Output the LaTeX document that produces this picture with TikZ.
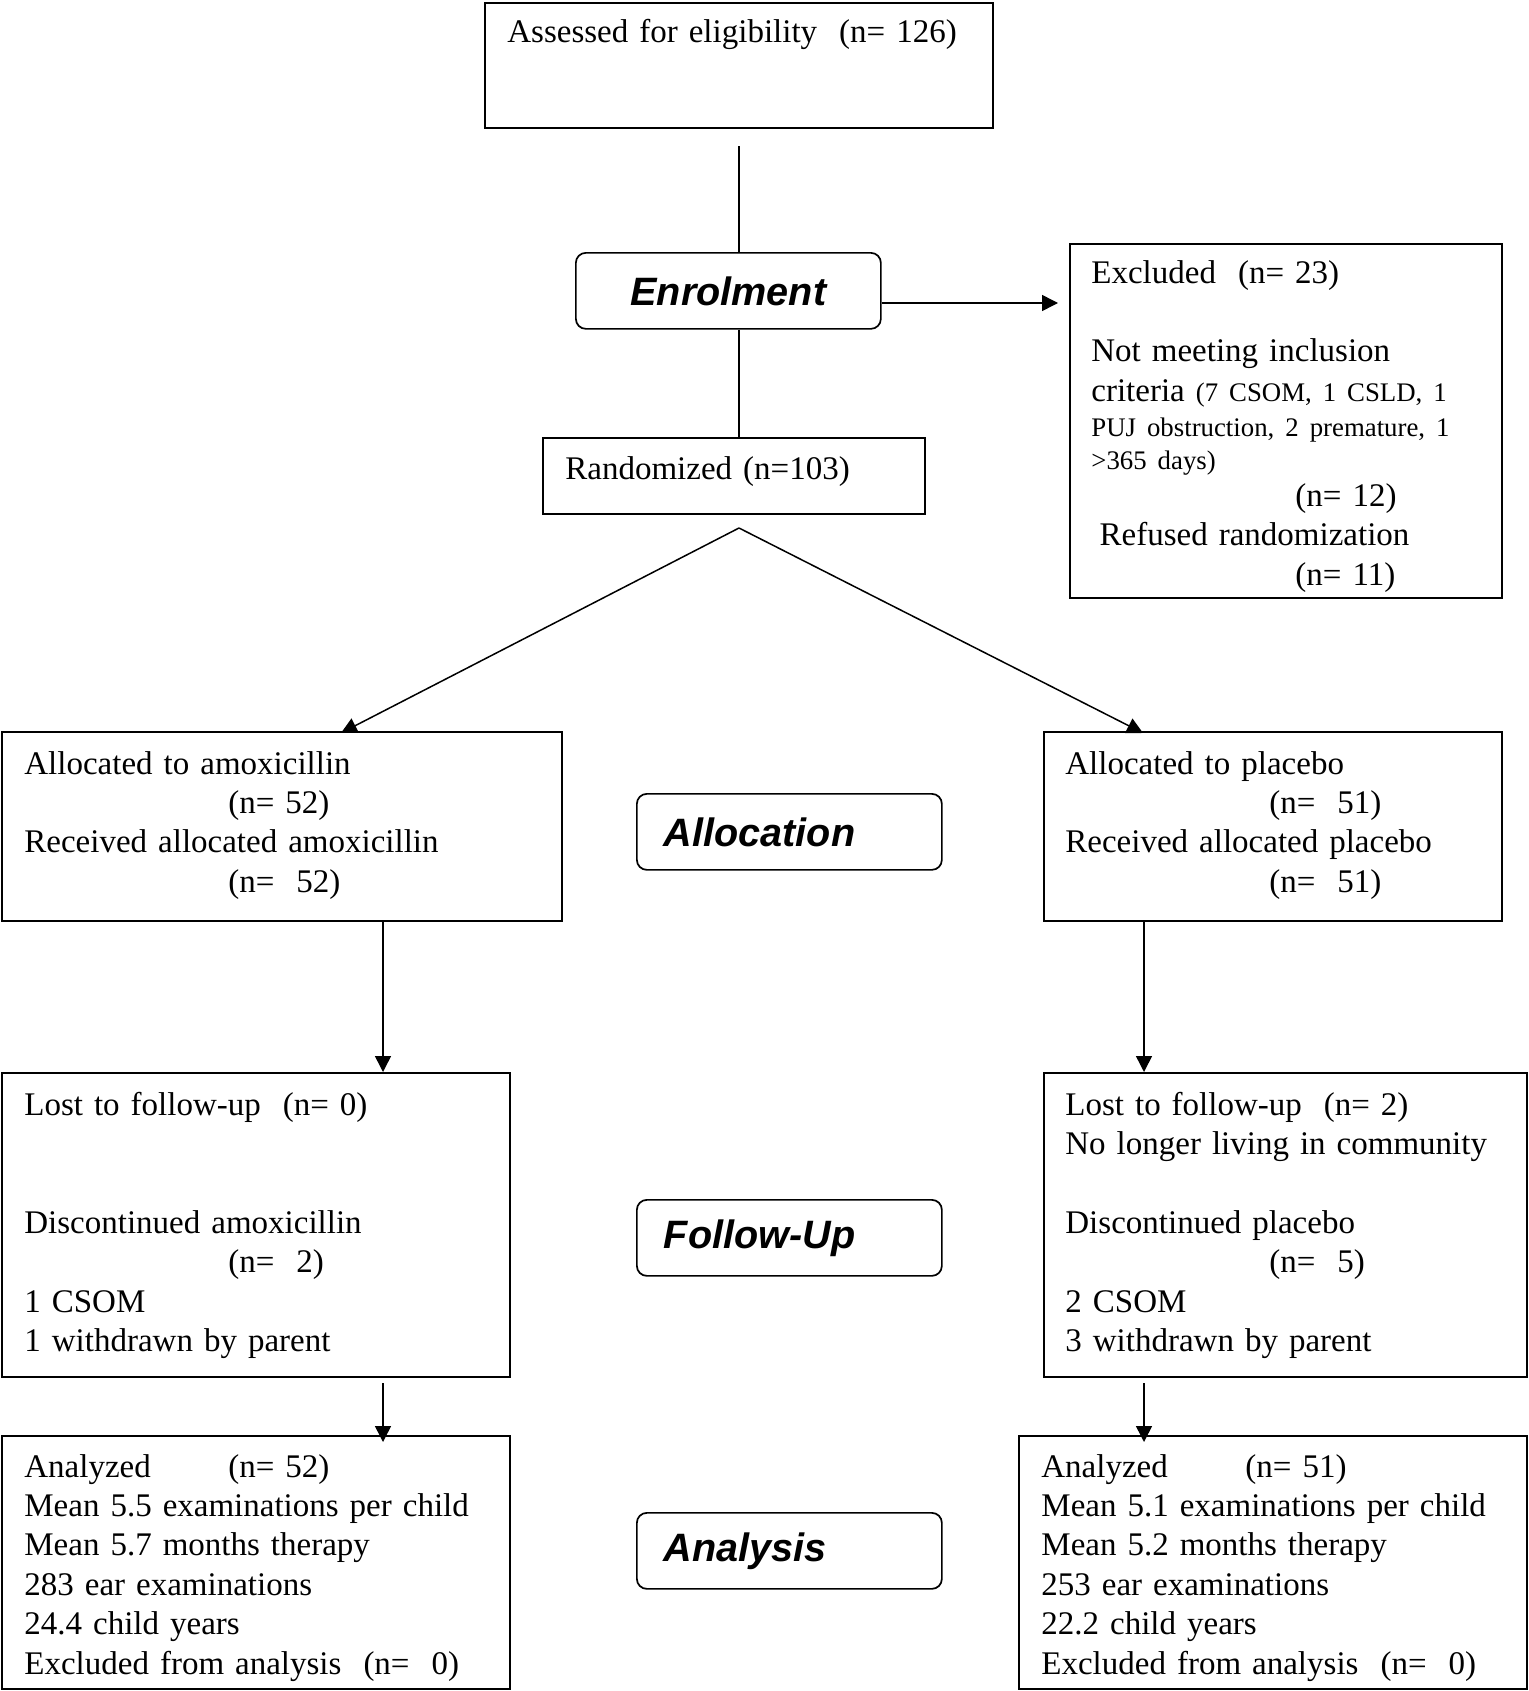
\documentclass[tikz,border=0pt]{standalone}
\usepackage{fontspec}
\setmainfont{Liberation Serif}
\newfontfamily\stagefont{Liberation Sans}
\usetikzlibrary{arrows.meta, positioning}
\newcommand{\ntab}[1]{\makebox[102pt][l]{#1}}
\newcommand{\smalltxt}{\fontsize{13.4}{16.5}\selectfont}

\begin{document}
\begin{tikzpicture}[x=0.5pt, y=-0.5pt,
                >={Triangle[length=8pt, width=8pt]},
                box/.style={draw, line width=0.85pt, anchor=north west, inner sep=0pt},
                stage/.style={draw, line width=0.85pt, rounded corners=5pt, anchor=north west,
                    minimum width=152.5pt, minimum height=38pt, inner xsep=13.5pt, inner ysep=0pt,
                    text width=125.5pt, align=left,
                    font=\stagefont\bfseries\itshape\fontsize{19.8}{22}\selectfont},
                txt/.style={anchor=base west, inner sep=0pt, text width=240pt, align=left,
                    font=\fontsize{16.5}{19.7}\selectfont},
                line/.style={line width=0.75pt}]

            \useasboundingbox (0,0) rectangle (1528,1691);

            % boxes
            \node[box, minimum width=254pt, minimum height=62.5pt] (elig) at (484,2) {};
            \node[box, minimum width=216pt, minimum height=177pt] (excl) at (1069,243) {};
            \node[box, minimum width=191pt, minimum height=38pt] (rand) at (542,437) {};
            \node[box, minimum width=280pt, minimum height=94.5pt] (alloc-l) at (1,731) {};
            \node[box, minimum width=229pt, minimum height=94.5pt] (alloc-r) at (1043,731) {};
            \node[box, minimum width=254pt, minimum height=152pt] (fu-l) at (1,1072) {};
            \node[box, minimum width=241.5pt, minimum height=152pt] (fu-r) at (1043,1072) {};
            \node[box, minimum width=254pt, minimum height=126.5pt] (an-l) at (1,1435) {};
            \node[box, minimum width=254pt, minimum height=126.5pt] (an-r) at (1018,1435) {};

            % stages
            \node[stage, align=center] (enrol) at (575,252) {Enrolment};
            \node[stage] (allocation) at (636,793) {Allocation};
            \node[stage] (followup) at (636,1199) {Follow-Up};
            \node[stage] (analysis) at (636,1512) {Analysis};

            % texts
            \node[txt] (t-elig) at (507,43) {Assessed for eligibility~ (n= 126)};
            \node[txt] (t-excl) at (1091,283) {Excluded~ (n= 23)\\[19.7pt]
                Not meeting inclusion\\
                criteria {\smalltxt (7 CSOM, 1 CSLD, 1}\\[-2.2pt]
                {\smalltxt PUJ obstruction, 2 premature, 1}\\[-3.1pt]
                {\smalltxt >365 days)}\\[-1.2pt]
                \ntab{}(n= 12)\\
                \hspace*{.25em}Refused randomization\\
                \ntab{}(n= 11)};
            \node[txt] (t-rand) at (565,479) {Randomized (n=103)};
            \node[txt] (t-alloc-l) at (24,774) {Allocated to amoxicillin\\
                \ntab{}(n= 52)\\
                Received allocated amoxicillin\\
                \ntab{}(n=~ 52)};
            \node[txt] (t-alloc-r) at (1065,774) {Allocated to placebo\\
                \ntab{}(n=~ 51)\\
                Received allocated placebo\\
                \ntab{}(n=~ 51)};
            \node[txt] (t-fu-l) at (24,1115) {Lost to follow-up~ (n= 0)\\[39.4pt]
                Discontinued amoxicillin\\
                \ntab{}(n=~ 2)\\
                1 CSOM\\
                1 withdrawn by parent};
            \node[txt] (t-fu-r) at (1065,1115) {Lost to follow-up~ (n= 2)\\
                No longer living in community\\[19.7pt]
                Discontinued placebo\\
                \ntab{}(n=~ 5)\\
                2 CSOM\\
                3 withdrawn by parent};
            \node[txt] (t-an-l) at (24,1477) {\ntab{Analyzed}(n= 52)\\
                Mean 5.5 examinations per child\\
                Mean 5.7 months therapy\\
                283 ear examinations\\
                24.4 child years\\
                Excluded from analysis~ (n=~ 0)};
            \node[txt] (t-an-r) at (1041,1477) {\ntab{Analyzed}(n= 51)\\
                Mean 5.1 examinations per child\\
                Mean 5.2 months therapy\\
                253 ear examinations\\
                22.2 child years\\
                Excluded from analysis~ (n=~ 0)};

            % connectors
            \coordinate (elig-out) at (739,146);
            \coordinate (excl-in) at (1058,303);
            \coordinate (split) at (739,528);
            \coordinate (amox-in) at (341,733);
            \coordinate (plac-in) at (1143,733);
            \coordinate (amox-x) at (383,0);
            \coordinate (plac-x) at (1144,0);
            \coordinate (amox-gap) at (383,1383);
            \coordinate (plac-gap) at (1144,1383);
            \coordinate (amox-end) at (383,1442);
            \coordinate (plac-end) at (1144,1442);

            \draw[line] (elig-out) -- (elig-out |- enrol.north);
            \draw[line] (enrol.south -| elig-out) -- (rand.north -| elig-out);
            \draw[line, ->] (enrol.east |- excl-in) -- (excl-in);
            \draw[line, ->] (split) -- (amox-in);
            \draw[line, ->] (split) -- (plac-in);
            \draw[line, ->] (alloc-l.south -| amox-x) -- (fu-l.north -| amox-x);
            \draw[line, ->] (alloc-r.south -| plac-x) -- (fu-r.north -| plac-x);
            \draw[line, ->] (amox-gap) -- (amox-end);
            \draw[line, ->] (plac-gap) -- (plac-end);
        \end{tikzpicture}
\end{document}
